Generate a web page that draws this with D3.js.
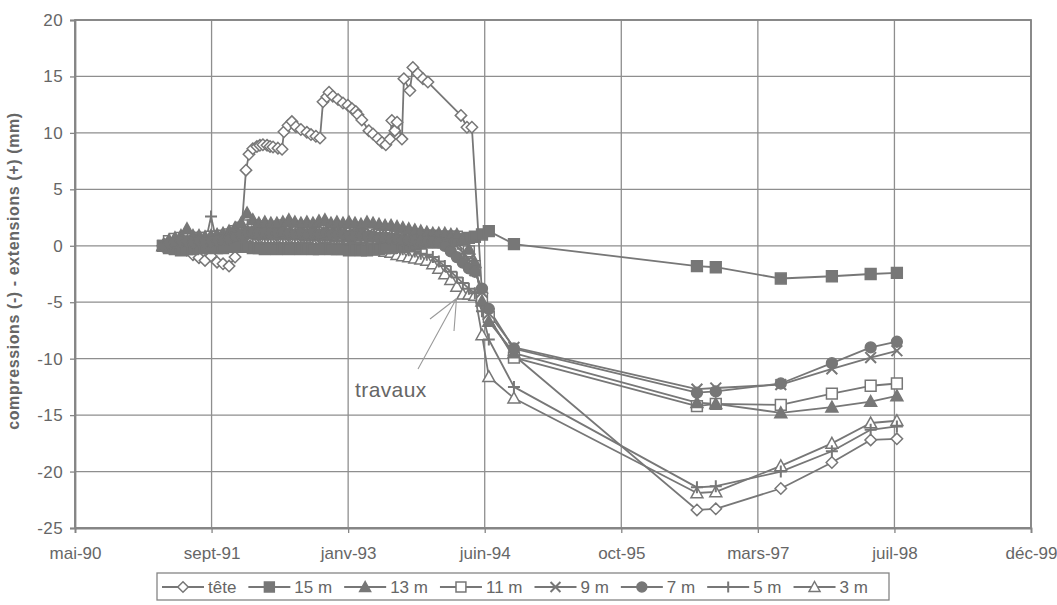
<!DOCTYPE html>
<html>
<head>
<meta charset="utf-8">
<script src="https://cdn.jsdelivr.net/npm/d3@7"></script>
<style>
  html, body { margin: 0; padding: 0; background: #fff; }
  svg { display: block; font-family: Arial, "Liberation Sans", Helvetica, sans-serif; }
</style>
</head>
<body>
<svg id="chart" width="1057" height="605"></svg>
<script>
// ---- time axis: origin and major unit (days) ----
const axisStart = "1990-05-05";
const axisStepDays = 500;
const xTickLabels = ["mai-90", "sept-91", "janv-93", "juin-94", "oct-95", "mars-97", "juil-98", "déc-99"];
const yTicks = [-25, -20, -15, -10, -5, 0, 5, 10, 15, 20];

// ---- measurement dates of the extensometer anchors (15 m ... 3 m) ----
const depthDates = [
  "1991-03-23", "1991-04-14", "1991-05-06", "1991-05-28", "1991-06-19", "1991-07-11", "1991-08-02", "1991-08-24", "1991-09-15", "1991-10-07",
  "1991-10-29", "1991-11-20", "1991-12-12", "1992-01-03", "1992-01-25", "1992-02-15", "1992-03-08", "1992-03-30", "1992-04-21", "1992-05-13",
  "1992-06-04", "1992-06-26", "1992-07-18", "1992-08-09", "1992-08-31", "1992-09-22", "1992-10-14", "1992-11-05", "1992-11-27", "1992-12-19",
  "1993-01-10", "1993-02-01", "1993-02-23", "1993-03-17", "1993-04-08", "1993-04-30", "1993-05-22", "1993-06-13", "1993-07-05", "1993-07-27",
  "1993-08-17", "1993-09-08", "1993-09-30", "1993-10-22", "1993-11-13", "1993-12-05", "1993-12-27", "1994-01-18", "1994-02-09", "1994-03-03",
  "1994-03-25", "1994-04-16", "1994-05-08", "1994-06-03", "1994-06-28", "1994-09-28", "1996-07-29", "1996-10-06", "1997-06-01", "1997-12-05",
  "1998-04-26", "1998-07-31"
];

// ---- anchor displacements (mm) ----
const m15 = [
  0, -0.2, -0.3, -0.4, -0.3, -0.3, -0.2, -0.2, -0.1, -0.2,
  -0.2, -0.1, -0.1, 0.0, -0.1, -0.2, -0.2, -0.3, -0.2, -0.3,
  -0.2, -0.3, -0.2, -0.3, -0.2, -0.3, -0.3, -0.2, -0.3, -0.3,
  -0.3, -0.4, -0.3, -0.4, -0.4, -0.3, -0.3, -0.2, -0.2, -0.1,
  -0.1, 0.0, 0.1, 0.2, 0.3, 0.3, 0.3, 0.4, 0.4, 0.5,
  0.6, 0.7, 0.8, 1.0, 1.3, 0.15, -1.8, -1.9, -2.9, -2.7,
  -2.5, -2.4
];
const m13 = [
  0, 0.5, 0.7, 0.9, 1.5, 0.9, 0.9, 0.8, 0.9, 1.0,
  1.1, 1.3, 1.6, 2.0, 2.9, 2.3, 2.0, 2.1, 2.0, 2.0,
  2.1, 2.3, 2.1, 2.0, 2.1, 2.0, 2.2, 2.3, 2.0, 2.1,
  2.0, 2.1, 2.0, 1.9, 2.1, 2.0, 1.9, 1.8, 1.8, 1.7,
  1.6, 1.5, 1.4, 1.3, 1.2, 1.1, 1.1, 1.1, 1.0, 1.0,
  0.5, -0.3, -1.5, -4.9, -6.7, -9.5, -13.9, -14.0, -14.8, -14.3,
  -13.8, -13.3
];
const m11 = [
  0, 0.4, 0.6, 0.7, 0.8, 0.7, 0.7, 0.7, 0.8, 0.8,
  0.9, 1.0, 1.3, 1.6, 1.8, 1.8, 1.7, 1.7, 1.6, 1.7,
  1.8, 1.7, 1.6, 1.7, 1.6, 1.7, 1.6, 1.7, 1.6, 1.6,
  1.6, 1.5, 1.6, 1.5, 1.5, 1.4, 1.4, 1.3, 1.2, 1.2,
  1.1, 1.0, 1.0, 0.9, 0.9, 0.9, 0.8, 0.8, 0.8, 0.8,
  0.2, -0.5, -1.8, -4.6, -6.3, -9.9, -14.2, -14.0, -14.1, -13.1,
  -12.4, -12.2
];
const m9 = [
  0, 0.2, 0.3, 0.4, 0.5, 0.4, 0.4, 0.3, 0.4, 0.5,
  0.5, 0.6, 0.8, 1.0, 1.3, 1.3, 1.2, 1.3, 1.2, 1.3,
  1.4, 1.3, 1.2, 1.3, 1.2, 1.3, 1.2, 1.3, 1.2, 1.2,
  1.2, 1.1, 1.1, 1.0, 1.0, 1.0, 0.9, 0.8, 0.8, 0.7,
  0.7, 0.6, 0.6, 0.6, 0.6, 0.6, 0.6, 0.6, 0.6, 0.2,
  -0.6, -1.2, -2.2, -4.1, -6.0, -9.0, -12.7, -12.6, -12.3, -10.9,
  -9.9, -9.3
];
const m7 = [
  0, 0.2, 0.3, 0.4, 0.4, 0.3, 0.4, 0.3, 0.4, 0.5,
  0.5, 0.6, 0.8, 1.0, 1.2, 1.2, 1.1, 1.2, 1.1, 1.1,
  1.2, 1.1, 1.0, 1.1, 1.0, 1.1, 1.0, 1.1, 1.0, 1.0,
  1.0, 0.9, 0.9, 0.9, 0.8, 0.8, 0.7, 0.7, 0.6, 0.6,
  0.5, 0.5, 0.5, 0.4, 0.4, 0.4, 0.3, 0.0, -0.5, -1.0,
  -1.5, -2.0, -2.3, -3.8, -5.6, -9.1, -13.0, -12.9, -12.2, -10.4,
  -9.0, -8.5
];
const m5 = [
  0, 0.0, -0.1, 0.0, -0.1, 0.0, 0.1, 0.1, 2.6, 0.2,
  0.3, 0.4, 0.5, 0.6, 0.7, 0.7, 0.6, 0.7, 0.6, 0.6,
  0.7, 0.6, 0.6, 0.6, 0.5, 0.6, 0.5, 0.5, 0.5, 0.4,
  0.4, 0.4, 0.3, 0.3, 0.2, 0.2, 0.1, 0.0, -0.1, -0.2,
  -0.3, -0.4, -0.5, -0.7, -0.8, -1.0, -1.4, -1.8, -2.3, -2.8,
  -3.3, -3.8, -4.2, -5.8, -8.3, -12.5, -21.4, -21.3, -20.0, -18.2,
  -16.3, -16.0
];
const m3 = [
  0, -0.1, -0.1, -0.2, -0.1, -0.1, 0.0, 0.0, 0.0, 0.1,
  0.1, 0.2, 0.2, 0.3, 0.3, 0.3, 0.2, 0.3, 0.3, 0.2,
  0.3, 0.2, 0.3, 0.2, 0.2, 0.2, 0.1, 0.2, 0.1, 0.1,
  0.0, 0.0, -0.1, -0.1, -0.2, -0.3, -0.4, -0.5, -0.6, -0.8,
  -0.9, -1.0, -1.1, -1.2, -1.3, -1.6, -2.0, -2.5, -3.0, -3.6,
  -4.3, -4.3, -4.4, -7.9, -11.6, -13.5, -21.9, -21.8, -19.5, -17.5,
  -15.7, -15.5
];

// ---- head of the borehole ("tête"): its own reading dates ----
const teteDates = [
  "1991-03-23", "1991-04-14", "1991-05-06", "1991-05-28", "1991-06-19", "1991-07-11", "1991-08-02", "1991-08-24", "1991-09-15", "1991-10-07",
  "1991-10-29", "1991-11-20", "1991-12-12", "1992-01-03", "1992-01-21", "1992-02-01", "1992-02-15", "1992-03-01", "1992-03-12", "1992-03-23",
  "1992-04-07", "1992-04-18", "1992-04-29", "1992-05-17", "1992-06-01", "1992-06-08", "1992-06-23", "1992-07-07", "1992-07-22", "1992-08-09",
  "1992-08-31", "1992-09-15", "1992-10-03", "1992-10-18", "1992-10-29", "1992-11-12", "1992-11-20", "1992-12-04", "1992-12-23", "1993-01-10",
  "1993-01-28", "1993-02-12", "1993-02-26", "1993-03-06", "1993-03-20", "1993-04-15", "1993-04-30", "1993-05-18", "1993-06-02", "1993-06-16",
  "1993-07-01", "1993-07-08", "1993-07-19", "1993-07-27", "1993-08-14", "1993-08-21", "1993-09-12", "1993-09-23", "1993-10-11", "1993-10-30",
  "1993-11-17", "1994-03-18", "1994-04-09", "1994-04-27", "1994-06-03", "1994-06-28", "1994-09-28", "1996-07-29", "1996-10-06", "1997-06-01",
  "1997-12-05", "1998-04-26", "1998-07-31"
];
const teteValues = [
  0, -0.2, 0.1, -0.3, -0.4, -0.8, -1.05, -1.3, -0.9, -1.45,
  -1.6, -1.8, -1.0, 0.8, 6.7, 8.1, 8.6, 8.8, 8.9, 8.95,
  8.9, 8.8, 8.75, 8.65, 8.55, 10.1, 10.65, 11.0, 10.55, 10.3,
  10.05, 9.85, 9.7, 9.55, 12.75, 13.2, 13.6, 13.25, 12.95, 12.65,
  12.45, 12.15, 11.9, 11.6, 11.15, 10.2, 9.9, 9.5, 9.15, 8.95,
  9.45, 11.1, 10.2, 10.95, 9.45, 14.8, 13.75, 15.8, 15.25, 14.8,
  14.5, 11.55, 10.5, 10.5, -4.2, -6.5, -9.7, -23.4, -23.3, -21.5,
  -19.2, -17.2, -17.1
];

const seriesNames = ["tête", "15 m", "13 m", "11 m", "9 m", "7 m", "5 m", "3 m"];
const seriesShapes = ["diamond", "square", "triangle", "square", "cross", "circle", "plus", "triangle"];
const seriesFilled = [false, true, true, false, true, true, true, false];

const annotationText = "travaux";

// ---------------------------------------------------------------
const INK = "#777";
const TEXT = "#666";
const GRID = "#8e8e8e";
const FRAME = "#858585";

const svg = d3.select("#chart");
const parse = d3.timeParse("%Y-%m-%d");
const t0 = parse(axisStart);
const tickDates = xTickLabels.map((_, i) => d3.timeDay.offset(t0, i * axisStepDays));

const plot = { left: 75, right: 1031, top: 20, bottom: 528 };
const x = d3.scaleTime().domain([t0, tickDates[tickDates.length - 1]]).range([plot.left, plot.right]);
const y = d3.scaleLinear().domain([d3.min(yTicks), d3.max(yTicks)]).range([plot.bottom, plot.top]);

// grid
const grid = svg.append("g");
grid.selectAll("line.v").data(tickDates).join("line")
  .attr("x1", d => x(d)).attr("x2", d => x(d))
  .attr("y1", plot.top).attr("y2", plot.bottom)
  .attr("stroke", GRID).attr("stroke-width", 1.3);
grid.selectAll("line.h").data(yTicks).join("line")
  .attr("x1", plot.left).attr("x2", plot.right)
  .attr("y1", d => y(d)).attr("y2", d => y(d))
  .attr("stroke", GRID).attr("stroke-width", 1.3);
svg.append("rect")
  .attr("x", plot.left).attr("y", plot.top)
  .attr("width", plot.right - plot.left).attr("height", plot.bottom - plot.top)
  .attr("fill", "none").attr("stroke", FRAME).attr("stroke-width", 1.8);

// axes
const yAxis = svg.append("g").attr("transform", `translate(${plot.left},0)`)
  .call(d3.axisLeft(y).tickValues(yTicks).tickSize(5).tickPadding(7).tickFormat(d3.format("d")));
const xAxis = svg.append("g").attr("transform", `translate(0,${plot.bottom})`)
  .call(d3.axisBottom(x).tickValues(tickDates).tickSize(5).tickPadding(14)
    .tickFormat((d, i) => xTickLabels[i]));
[yAxis, xAxis].forEach(a => {
  a.select(".domain").attr("stroke", FRAME).attr("stroke-width", 1.8);
  a.selectAll(".tick line").attr("stroke", FRAME).attr("stroke-width", 1.3);
  a.selectAll(".tick text").attr("fill", TEXT).style("font-size", "17px");
});
yAxis.selectAll(".tick text").text(d => d < 0 ? "-" + Math.abs(d) : d).style("letter-spacing", "0.4px");

svg.append("text")
  .attr("transform", `translate(19,${(plot.top + plot.bottom) / 2 - 3}) rotate(-90)`)
  .attr("text-anchor", "middle")
  .attr("fill", TEXT).style("font-size", "16px").style("font-weight", "bold")
  .style("letter-spacing", "0.6px")
  .text("compressions (-) - extensions (+)  (mm)");

// marker shapes (size = half extent)
const shapes = {
  diamond: { draw(c, r) { r *= 0.95; c.moveTo(0, -r); c.lineTo(r, 0); c.lineTo(0, r); c.lineTo(-r, 0); c.closePath(); } },
  square: { draw(c, r) { r *= 0.9; c.moveTo(-r, -r); c.lineTo(r, -r); c.lineTo(r, r); c.lineTo(-r, r); c.closePath(); } },
  triangle: { draw(c, r) { c.moveTo(0, -r); c.lineTo(r, r * 0.8); c.lineTo(-r, r * 0.8); c.closePath(); } },
  circle: { draw(c, r) { r *= 0.9; c.moveTo(r, 0); c.arc(0, 0, r, 0, 2 * Math.PI); } },
  cross: { draw(c, r) { r *= 0.9; c.moveTo(-r, -r); c.lineTo(r, r); c.moveTo(r, -r); c.lineTo(-r, r); } },
  plus: { draw(c, r) { c.moveTo(0, -r); c.lineTo(0, r); c.moveTo(-r, 0); c.lineTo(r, 0); } }
};
const symbolPath = (shape, r) => d3.symbol().type(shapes[shape]).size(r)();

const seriesValues = [teteValues, m15, m13, m11, m9, m7, m5, m3];
const series = seriesNames.map((name, i) => {
  const dates = i === 0 ? teteDates : depthDates;
  return {
    name, shape: seriesShapes[i], filled: seriesFilled[i],
    points: dates.map((d, k) => ({ date: parse(d), value: seriesValues[i][k] }))
  };
});

const line = d3.line().x(d => x(d.date)).y(d => y(d.value));
const gLines = svg.append("g");
series.forEach(s => {
  gLines.append("path").datum(s.points).attr("d", line)
    .attr("fill", "none").attr("stroke", INK).attr("stroke-width", 1.8)
    .attr("stroke-linejoin", "round");
});

// markers: open symbols underneath, filled ones on top
const markerOrder = [0, 7, 3, 4, 6, 1, 2, 5];
const gMarks = svg.append("g");
const R = 6;
function styleMarker(sel, s) {
  const isStroke = s.shape === "cross" || s.shape === "plus";
  sel.attr("fill", isStroke ? "none" : (s.filled ? INK : "#fff"))
    .attr("stroke", INK).attr("stroke-width", isStroke ? 2 : 1.5);
}
markerOrder.forEach(i => {
  const s = series[i];
  gMarks.append("g").selectAll("path").data(s.points).join("path")
    .attr("d", symbolPath(s.shape, R))
    .attr("transform", d => `translate(${x(d.date)},${y(d.value)})`)
    .call(styleMarker, s);
});

// "travaux" annotation with open arrow
const ann = svg.append("g").attr("stroke", "#9a9a9a").attr("stroke-width", 1.1).attr("fill", "none");
ann.append("path").attr("d", "M418,369 L456.5,298.5 M456.5,298.5 L430,319 M456.5,298.5 L454,331");
svg.append("text").attr("x", 355).attr("y", 397)
  .attr("fill", TEXT).style("font-size", "21px").style("letter-spacing", "0.4px")
  .text(annotationText);

// legend
const legend = svg.append("g").attr("transform", "translate(157,573)");
legend.append("rect").attr("width", 732).attr("height", 27)
  .attr("fill", "#fff").attr("stroke", FRAME).attr("stroke-width", 1.3);
let cx = 5;
series.forEach(s => {
  const g = legend.append("g").attr("transform", `translate(${cx},14)`);
  g.append("line").attr("x1", 0).attr("x2", 42).attr("stroke", INK).attr("stroke-width", 1.8);
  g.append("path").attr("d", symbolPath(s.shape, R - 0.5)).attr("transform", "translate(21,0)").call(styleMarker, s);
  const t = g.append("text").attr("x", 46).attr("y", 6).attr("fill", TEXT)
    .style("font-size", "17px").text(s.name);
  cx += 46 + t.node().getComputedTextLength() + 12;
});
</script>
</body>
</html>
